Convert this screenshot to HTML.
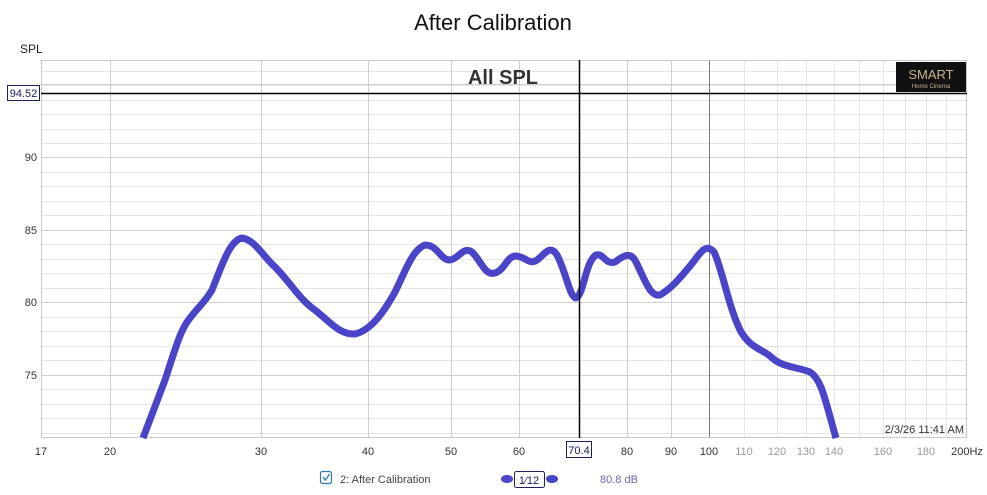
<!DOCTYPE html>
<html><head><style>
body{margin:0;background:#fff;font-family:"Liberation Sans",sans-serif;}
</style></head><body>
<svg width="987" height="490" xmlns="http://www.w3.org/2000/svg" font-family="Liberation Sans, sans-serif">
<rect width="987" height="490" fill="#fff"/>
<text x="493" y="30" font-size="22" text-anchor="middle" fill="#111">After Calibration</text>
<text x="20" y="53" font-size="12" fill="#222">SPL</text>
<g stroke="#e6e6e6" stroke-width="1">
<line x1="41" x2="967" y1="71.5" y2="71.5"/><line x1="41" x2="967" y1="85.5" y2="85.5"/><line x1="41" x2="967" y1="100.5" y2="100.5"/><line x1="41" x2="967" y1="114.5" y2="114.5"/><line x1="41" x2="967" y1="129.5" y2="129.5"/><line x1="41" x2="967" y1="143.5" y2="143.5"/>
<line x1="41" x2="967" y1="172.5" y2="172.5"/><line x1="41" x2="967" y1="186.5" y2="186.5"/><line x1="41" x2="967" y1="201.5" y2="201.5"/><line x1="41" x2="967" y1="215.5" y2="215.5"/>
<line x1="41" x2="967" y1="244.5" y2="244.5"/><line x1="41" x2="967" y1="259.5" y2="259.5"/><line x1="41" x2="967" y1="273.5" y2="273.5"/><line x1="41" x2="967" y1="288.5" y2="288.5"/>
<line x1="41" x2="967" y1="317.5" y2="317.5"/><line x1="41" x2="967" y1="331.5" y2="331.5"/><line x1="41" x2="967" y1="346.5" y2="346.5"/><line x1="41" x2="967" y1="360.5" y2="360.5"/>
<line x1="41" x2="967" y1="389.5" y2="389.5"/><line x1="41" x2="967" y1="404.5" y2="404.5"/><line x1="41" x2="967" y1="418.5" y2="418.5"/><line x1="41" x2="967" y1="433.5" y2="433.5"/>
<line y1="60" y2="438" x1="744.5" x2="744.5"/><line y1="60" y2="438" x1="777.5" x2="777.5"/><line y1="60" y2="438" x1="806.5" x2="806.5"/><line y1="60" y2="438" x1="834.5" x2="834.5"/><line y1="60" y2="438" x1="859.5" x2="859.5"/><line y1="60" y2="438" x1="883.5" x2="883.5"/><line y1="60" y2="438" x1="905.5" x2="905.5"/><line y1="60" y2="438" x1="926.5" x2="926.5"/><line y1="60" y2="438" x1="946.5" x2="946.5"/>
</g>
<g stroke="#cfcfcf" stroke-width="1">
<line x1="41" x2="967" y1="84.5" y2="84.5"/><line x1="41" x2="967" y1="157.5" y2="157.5"/><line x1="41" x2="967" y1="230.5" y2="230.5"/><line x1="41" x2="967" y1="302.5" y2="302.5"/><line x1="41" x2="967" y1="375.5" y2="375.5"/>
<line y1="60" y2="438" x1="110.5" x2="110.5"/><line y1="60" y2="438" x1="261.5" x2="261.5"/><line y1="60" y2="438" x1="368.5" x2="368.5"/><line y1="60" y2="438" x1="451.5" x2="451.5"/><line y1="60" y2="438" x1="519.5" x2="519.5"/><line y1="60" y2="438" x1="627.5" x2="627.5"/><line y1="60" y2="438" x1="671.5" x2="671.5"/>
</g>
<line y1="60" y2="438" x1="709.5" x2="709.5" stroke="#777"/>
<rect x="41.5" y="60.5" width="925" height="377" fill="none" stroke="#c8c8c8"/>
<g font-size="11" fill="#333" text-anchor="end">
<text x="37" y="161">90</text><text x="37" y="234">85</text><text x="37" y="306">80</text><text x="37" y="379">75</text>
</g>
<text x="503" y="84" font-size="20" font-weight="bold" text-anchor="middle" fill="#333">All SPL</text>
<rect x="896" y="62" width="70" height="30" fill="#111"/>
<text x="931" y="79" font-size="13" text-anchor="middle" fill="#c9b48a">SMART</text>
<text x="931" y="88" font-size="6" text-anchor="middle" fill="#c9b48a">Home Cinema</text>
<path d="M143,438 L165,380 C175,350 180,330 190,318 C200,305 205,302 212,290 C222,265 230,240 242,238 C255,240 262,255 275,267 C290,282 300,300 315,310 C330,322 340,335 355,334 C372,330 385,310 395,292 C405,272 412,250 425,245 C438,245 440,260 450,260 C460,258 463,246 472,252 C482,262 485,276 495,273 C505,270 507,255 517,256 C527,258 530,265 537,260 C545,254 550,244 557,255 C566,272 570,298 576,298 C584,295 585,262 596,255 C604,253 605,265 615,262 C622,257 630,250 636,262 C645,280 650,297 660,295 C672,288 680,278 690,266 C700,254 705,242 714,252 C722,268 728,305 740,330 C750,348 760,348 770,356 C782,368 795,366 810,372 C822,380 825,400 836,438" fill="none" stroke="#4a45c8" stroke-width="7" stroke-linejoin="round" stroke-linecap="butt"/>
<line x1="41" x2="967" y1="93.5" y2="93.5" stroke="#000" stroke-width="1.5"/>
<line y1="60" y2="438" x1="579.5" x2="579.5" stroke="#000" stroke-width="1.5"/>
<rect x="7.5" y="85.5" width="32" height="15" fill="#fff" stroke="#1a2060"/>
<text x="23.5" y="97" font-size="11" text-anchor="middle" fill="#1a2060">94.52</text>
<text x="964" y="433" font-size="11" text-anchor="end" fill="#333">2/3/26 11:41 AM</text>
<g font-size="11" fill="#333" text-anchor="middle">
<text x="41" y="455">17</text><text x="110" y="455">20</text><text x="261" y="455">30</text><text x="368" y="455">40</text><text x="451" y="455">50</text><text x="519" y="455">60</text><text x="627" y="455">80</text><text x="671" y="455">90</text><text x="709" y="455">100</text>
<text x="967" y="455">200Hz</text>
</g>
<g font-size="11" fill="#999" text-anchor="middle">
<text x="744" y="455">110</text><text x="777" y="455">120</text><text x="806" y="455">130</text><text x="834" y="455">140</text><text x="883" y="455">160</text><text x="926" y="455">180</text>
</g>
<rect x="566.5" y="441.5" width="25" height="16" fill="#fff" stroke="#1a2060"/>
<text x="579" y="454" font-size="11" text-anchor="middle" fill="#1a2060">70.4</text>
<rect x="320.5" y="471.5" width="11" height="12" rx="2" fill="#fff" stroke="#2b7bb5" stroke-width="1.2"/>
<path d="M323,477 l2.5,3 l4,-6" fill="none" stroke="#2b7bb5" stroke-width="1.3"/>
<text x="340" y="483" font-size="11" fill="#444">2: After Calibration</text>
<ellipse cx="507" cy="479" rx="6" ry="4" fill="#4a45c8"/>
<ellipse cx="552" cy="479" rx="6" ry="4" fill="#4a45c8"/>
<rect x="514.5" y="471.5" width="30" height="16" rx="2" fill="#fff" stroke="#1a2060"/>
<text x="529" y="484" font-size="11" text-anchor="middle" fill="#1a2060">1⁄12</text>
<text x="600" y="483" font-size="11" fill="#6a68a8">80.8 dB</text>
</svg>
</body></html>
